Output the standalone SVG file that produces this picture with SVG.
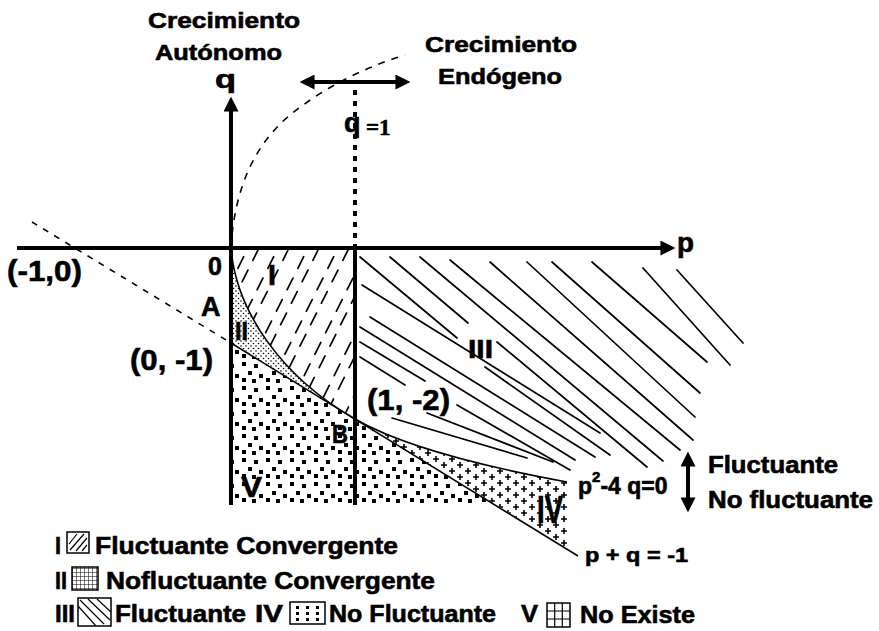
<svg xmlns="http://www.w3.org/2000/svg" width="879" height="631" viewBox="0 0 879 631">
<style>
text{font-family:"Liberation Sans",Arial,sans-serif;font-weight:bold;fill:#000;stroke:#000;stroke-width:0.6}
.ax{stroke:#000;stroke-width:4;fill:none}
.thin{stroke:#000;stroke-width:1.6;fill:none}
.hat{stroke:#000;stroke-width:1.7;fill:none;stroke-linecap:round}
.ico{fill:#fff;stroke:#000;stroke-width:1.5}
.icl{stroke:#000;stroke-width:1.2;fill:none}
.lg{font-size:24px}
</style>
<defs>
<marker id="arr" viewBox="0 0 14 14" markerWidth="15" markerHeight="15" refX="8" refY="7" orient="auto-start-reverse" markerUnits="userSpaceOnUse">
<path d="M0,0 L14,7 L0,14 Z" fill="#000"/>
</marker>
<pattern id="fine" width="5" height="5" patternUnits="userSpaceOnUse">
<circle cx="1" cy="1" r="0.8" fill="#000"/><circle cx="3.5" cy="3.5" r="0.8" fill="#000"/>
</pattern>
<pattern id="sq" width="24" height="24" patternUnits="userSpaceOnUse">
<rect x="2" y="2" width="4" height="4"/><rect x="14" y="4" width="4" height="4"/><rect x="8" y="11" width="4" height="4"/><rect x="19" y="14" width="4" height="4"/><rect x="2" y="18" width="4" height="4"/><rect x="12" y="19" width="4" height="4"/>
</pattern>
<pattern id="plus" width="16" height="12" patternUnits="userSpaceOnUse">
<path d="M1,3 h6 M4,0 v6 M9,9 h6 M12,6 v6" stroke="#000" stroke-width="1.6"/>
</pattern>
<pattern id="grid" width="4" height="4" patternUnits="userSpaceOnUse">
<path d="M0,0 H4 M0,0 V4" stroke="#000" stroke-width="1"/>
</pattern>
<clipPath id="clipI"><path d="M231,248 L355,248 L355,419 C280,376 236,310 231,248 Z"/></clipPath>
<clipPath id="clipIco3"><rect x="78" y="598" width="33" height="28"/></clipPath>
</defs>

<g id="regions">
<path d="M231,248 C236,310 280,376 355,419 L231,343 Z" fill="url(#fine)"/>
<path d="M231,343 L493,503 L231,503 Z" fill="url(#sq)"/>
<path d="M355,419 C400,445 480,466 567,482 L567,548 Z" fill="url(#plus)"/>
<g clip-path="url(#clipI)">
<path class="hat" stroke-dasharray="13 11" d="M137,432 L231,244 M152,440 L246,252 M167,432 L261,244 M182,440 L276,252 M197,432 L291,244 M212,440 L306,252 M227,432 L321,244 M242,440 L336,252 M257,432 L351,244 M272,440 L366,252 M287,432 L381,244 M302,440 L396,252 M317,432 L411,244 M332,440 L426,252 M347,432 L441,244"/>
</g>
<path class="hat" d="M677,270 L743,343 M643,268 L730,365 M592,262 L707,362 M552,262 L700,393 M527,262 L695,417 M490,262 L693,440 M450,260 L680,450 M420,257 L663,461 M390,257 L468,323 M360,257 L457,338 M497,342 L647,467 M362,285 L600,433 M485,367 L610,455 M370,317 L595,457 M360,327 L575,460 M360,342 L425,381 M360,357 L405,385 M457,405 L570,470 M427,413 L553,462 M392,418 L527,458"/>
</g>

<g id="connectors">
<path class="ax" d="M17,248 L669,248" marker-end="url(#arr)"/>
<path class="ax" d="M231,505 L231,103" marker-end="url(#arr)"/>
<path class="ax" d="M355,248 L355,505"/>
<path class="ax" d="M355,90 L355,246" stroke-dasharray="5 6"/>
<path class="ax" d="M306,82 L404,82" marker-start="url(#arr)" marker-end="url(#arr)"/>
<path class="ax" d="M688,458 L688,506" marker-start="url(#arr)" marker-end="url(#arr)"/>
<path class="thin" d="M231,248 Q236,160 290,115 Q340,75 405,55" stroke-dasharray="7 7"/>
<path class="thin" stroke-width="2" d="M32,222 L231,343" stroke-dasharray="6 7"/>
<path class="thin" d="M231,343 L578,556"/>
<path class="thin" d="M231,248 C236,310 280,376 355,419 C400,445 480,466 567,482"/>
</g>

<g id="label-autonomo"><text x="148" y="28" font-size="22" textLength="152" lengthAdjust="spacingAndGlyphs">Crecimiento</text>
<text x="155" y="60" font-size="22" textLength="127" lengthAdjust="spacingAndGlyphs">Autónomo</text></g>
<g id="label-endogeno"><text x="425" y="52" font-size="22" textLength="152" lengthAdjust="spacingAndGlyphs">Crecimiento</text>
<text x="438" y="84" font-size="22" textLength="124" lengthAdjust="spacingAndGlyphs">Endógeno</text></g>
<g id="axis-q"><text x="215" y="88" font-size="25" textLength="21" lengthAdjust="spacingAndGlyphs">q</text></g>
<g id="axis-p"><text x="677" y="252" font-size="27" textLength="17" lengthAdjust="spacingAndGlyphs">p</text></g>
<g id="label-q1"><text x="344" y="132" font-size="27">q<tspan x="366" y="135" font-size="23" font-family="Liberation Serif">=1</tspan></text></g>
<g id="pt-origin"><text x="208" y="275" font-size="25">0</text></g>
<g id="pt-A"><text x="201" y="316" font-size="27">A</text></g>
<g id="pt-m10"><text x="7" y="281" font-size="30" textLength="75" lengthAdjust="spacingAndGlyphs">(-1,0)</text></g>
<g id="pt-0m1"><text x="130" y="370" font-size="30" textLength="83" lengthAdjust="spacingAndGlyphs">(0, -1)</text></g>
<g id="pt-1m2"><text x="367" y="410" font-size="30" textLength="83" lengthAdjust="spacingAndGlyphs">(1, -2)</text></g>
<g id="pt-B"><text x="332" y="443" font-size="25" textLength="16" lengthAdjust="spacingAndGlyphs">B</text></g>
<g id="reg-I"><text x="268" y="285" font-size="30" textLength="8" lengthAdjust="spacingAndGlyphs">I</text></g>
<g id="reg-II"><text x="235" y="340" font-size="25" textLength="13" lengthAdjust="spacingAndGlyphs">II</text></g>
<g id="reg-III"><text x="468" y="358" font-size="25" textLength="25" lengthAdjust="spacingAndGlyphs">III</text></g>
<g id="reg-IV"><text x="537" y="523" font-size="38" textLength="26" lengthAdjust="spacingAndGlyphs">IV</text></g>
<g id="reg-V"><text x="241" y="497" font-size="30" textLength="21" lengthAdjust="spacingAndGlyphs">V</text></g>
<g id="eq-parab"><text x="578" y="494" font-size="23">p<tspan dy="-12" font-size="15">2</tspan><tspan dy="12">-4 q=0</tspan></text></g>
<g id="eq-line"><text x="585" y="562" font-size="20" textLength="103" lengthAdjust="spacingAndGlyphs">p + q = -1</text></g>
<g id="label-fluct"><text x="708" y="473" font-size="23" textLength="130" lengthAdjust="spacingAndGlyphs">Fluctuante</text>
<text x="708" y="508" font-size="23" textLength="165" lengthAdjust="spacingAndGlyphs">No fluctuante</text></g>

<g id="legend-I">
<text class="lg" x="55" y="554" textLength="6" lengthAdjust="spacingAndGlyphs">I</text>
<rect class="ico" x="67" y="532" width="22" height="21"/>
<path class="icl" d="M69,544 L77,534 M70,550 L84,534 M76,551 L87,538 M82,551 L87,545"/>
<text class="lg" x="95" y="554" textLength="303" lengthAdjust="spacingAndGlyphs">Fluctuante Convergente</text>
</g>
<g id="legend-II">
<text class="lg" x="55" y="589" textLength="12" lengthAdjust="spacingAndGlyphs">II</text>
<rect x="72" y="567" width="26" height="23" fill="url(#grid)" stroke="#000" stroke-width="1.5"/>
<text class="lg" x="106" y="589" textLength="329" lengthAdjust="spacingAndGlyphs">Nofluctuante Convergente</text>
</g>
<g id="legend-III">
<text class="lg" x="55" y="622" textLength="20" lengthAdjust="spacingAndGlyphs">III</text>
<rect class="ico" x="78" y="598" width="33" height="28"/>
<g clip-path="url(#clipIco3)"><path class="icl" stroke-width="1.5" d="M78,606 L96,626 M80,600 L104,624 M88,599 L110,620 M97,599 L111,612"/></g>
<text class="lg" x="115" y="622" textLength="131" lengthAdjust="spacingAndGlyphs">Fluctuante</text>
</g>
<g id="legend-IV">
<text class="lg" x="255" y="622" textLength="28" lengthAdjust="spacingAndGlyphs">IV</text>
<rect class="ico" x="290" y="602" width="35" height="22"/>
<path d="M296,606h3v3h-3z M306,606h3v3h-3z M316,606h3v3h-3z M296,612h3v3h-3z M306,612h3v3h-3z M316,612h3v3h-3z M296,618h3v3h-3z M306,618h3v3h-3z M316,618h3v3h-3z"/>
<text class="lg" x="329" y="622" textLength="167" lengthAdjust="spacingAndGlyphs">No Fluctuante</text>
</g>
<g id="legend-V">
<text class="lg" x="521" y="622" textLength="17" lengthAdjust="spacingAndGlyphs">V</text>
<rect class="ico" x="547" y="603" width="23" height="24"/>
<path class="icl" stroke-width="1.5" d="M554.7,603 V627 M562.3,603 V627 M547,611 H570 M547,619 H570"/>
<text class="lg" x="580" y="623" textLength="115" lengthAdjust="spacingAndGlyphs">No Existe</text>
</g>
</svg>
